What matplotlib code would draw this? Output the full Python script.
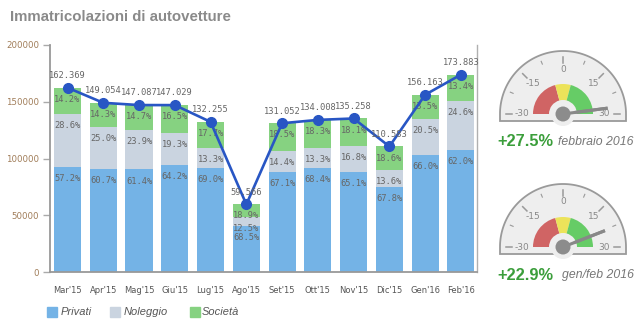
import matplotlib
matplotlib.use("Agg")
import matplotlib.pyplot as plt
import numpy as np
from matplotlib.patches import Wedge, Circle, Polygon

# Immatricolazioni mensili e ripartizione per canale (%)
mesi = ["Mar'15", "Apr'15", "Mag'15", "Giu'15", "Lug'15", "Ago'15",
        "Set'15", "Ott'15", "Nov'15", "Dic'15", "Gen'16", "Feb'16"]
totali = [162369, 149054, 147087, 147029, 132255, 59566,
          131052, 134008, 135258, 110583, 156163, 173883]
privati = [57.2, 60.7, 61.4, 64.2, 69.0, 68.5, 67.1, 68.4, 65.1, 67.8, 66.0, 62.0]
noleggio = [28.6, 25.0, 23.9, 19.3, 13.3, 12.5, 14.4, 13.3, 16.8, 13.6, 20.5, 24.6]
societa = [14.2, 14.3, 14.7, 16.5, 17.7, 18.9, 18.5, 18.3, 18.1, 18.6, 13.5, 13.4]

# Variazioni per i due indicatori a lancetta
var_mese = 27.5
var_bimestre = 22.9
etichette_var = ["febbraio 2016", "gen/feb 2016"]

C_PRIV = "#74b3e6"
C_NOL = "#cad4e0"
C_SOC = "#86d281"
C_LINE = "#2856c4"

W, H = 640, 334
fig = plt.figure(figsize=(W / 100, H / 100), dpi=100)

ax = fig.add_axes([50 / W, (H - 272) / H, (477 - 50) / W, (272 - 45) / H])
x = np.arange(len(mesi))
tot = np.array(totali, dtype=float)
p = tot * np.array(privati) / 100
n = tot * np.array(noleggio) / 100
s = tot * np.array(societa) / 100

bw = 0.76
ax.bar(x, p, bw, color=C_PRIV, label="Privati", zorder=2)
ax.bar(x, n, bw, bottom=p, color=C_NOL, label="Noleggio", zorder=2)
ax.bar(x, s, bw, bottom=p + n, color=C_SOC, label="Società", zorder=2)
ax.plot(x, tot, color=C_LINE, lw=1.9, marker="o", ms=7, zorder=4)

mono = dict(family="DejaVu Sans Mono", size=6.3, color="#666666")
for i in range(len(x)):
    for top, pct in ((p[i], privati[i]), (p[i] + n[i], noleggio[i]),
                     (p[i] + n[i] + s[i], societa[i])):
        ax.annotate(f"{pct:.1f}%", (x[i], top), xytext=(0, -8.3),
                    textcoords="offset points", ha="center", va="center",
                    zorder=3, **mono)
    val = f"{totali[i]:,}".replace(",", ".")
    ax.annotate(val, (x[i], tot[i]), xytext=(0, 8.8),
                textcoords="offset points", ha="center", va="center",
                zorder=5, **mono)

ax.set_xlim(-0.49, 11.45)
ax.set_ylim(0, 200000)
ax.set_yticks([0, 50000, 100000, 150000, 200000])
ax.set_yticklabels(["0", "50000", "100000", "150000", "200000"])
ax.set_xticks(x)
ax.set_xticklabels(mesi)
ax.tick_params(axis="y", length=5, width=1, color="#aaaaaa", pad=3,
               labelsize=6.2, labelcolor="#a07c58")
ax.tick_params(axis="x", length=0, pad=10, labelsize=6, labelcolor="#555555")
for side in ("left", "bottom"):
    ax.spines[side].set_color("#999999")
    ax.spines[side].set_linewidth(1.3)
ax.spines["right"].set_color("#b0b0b0")
ax.spines["right"].set_linewidth(1.0)
ax.spines["top"].set_visible(False)

fig.text(10 / W, 1 - 17 / H, "Immatricolazioni di autovetture",
         fontsize=10.8, fontweight="bold", color="#8a8a8a",
         family="Liberation Sans", va="center")

# legenda in basso
leg_items = [("Privati", C_PRIV, 47, 61), ("Noleggio", C_NOL, 110, 124),
             ("Società", C_SOC, 190, 202)]
over = fig.add_axes([0, 0, 1, 1])
over.set_xlim(0, W)
over.set_ylim(0, H)
over.axis("off")
for lab, col, xs, xt in leg_items:
    over.add_patch(plt.Rectangle((xs, H - 317), 10, 10, color=col))
    over.text(xt, H - 312, lab, fontsize=8, style="italic", color="#555555",
              family="Liberation Sans", va="center")


def gauge(cx, cy, value, pct_txt, sub_txt, ty):
    r = 63
    theta = np.linspace(0, np.pi, 100)
    pts = [(cx + r, cy - 7)] + [(cx + r * np.cos(t), cy + r * np.sin(t)) for t in theta] + [(cx - r, cy - 7)]
    over.add_patch(Polygon(pts, closed=True, fc="#eeeeee", ec="#9a9a9a", lw=1.3))

    def ang(v):
        return 90 - v / 30 * 90

    over.add_patch(Wedge((cx, cy), 30, ang(-5), ang(-30), width=16, fc="#d06464", ec="none"))
    over.add_patch(Wedge((cx, cy), 30, ang(5), ang(-5), width=16, fc="#ece35a", ec="none"))
    over.add_patch(Wedge((cx, cy), 30, ang(30), ang(5), width=16, fc="#66cc66", ec="none"))

    for v in np.arange(-30, 31, 7.5):
        a = np.radians(ang(v))
        major = v % 15 == 0
        r0 = 51 if major else 54
        over.plot([cx + r0 * np.cos(a), cx + 57 * np.cos(a)],
                  [cy + r0 * np.sin(a), cy + 57 * np.sin(a)],
                  color="#999999", lw=1.1 if major else 0.8)
        if major:
            rl = 43 if v != 0 else 45
            lx, ly = cx + rl * np.cos(a), cy + rl * np.sin(a)
            if abs(v) == 30:
                ly = cy
                lx = cx + np.sign(v) * 41
            over.text(lx, ly, f"{v:.0f}", fontsize=6.5, color="#888888",
                      ha="center", va="center")

    a = np.radians(ang(value))
    over.plot([cx, cx + 45 * np.cos(a)], [cy, cy + 45 * np.sin(a)],
              color="#888888", lw=2.2, solid_capstyle="butt")
    over.add_patch(Circle((cx, cy), 12, fc="#eeeeee", ec="none", zorder=3))
    over.add_patch(Circle((cx, cy), 7.5, fc="#8c8c8c", ec="none", zorder=4))
    over.plot([cx, cx + 45 * np.cos(a)], [cy, cy + 45 * np.sin(a)],
              color="#888888", lw=2.2, solid_capstyle="butt", zorder=3.5)

    over.text(497, ty, pct_txt, fontsize=11.8, fontweight="bold",
              color="#3b9e3b", family="Liberation Sans", va="center")
    over.text(634, ty, sub_txt, fontsize=8.8, style="italic",
              color="#777777", family="Liberation Sans", va="center", ha="right")


gauge(563, H - 114, var_mese, f"+{var_mese:.1f}%", etichette_var[0], H - 142)
gauge(563, H - 247, var_bimestre, f"+{var_bimestre:.1f}%", etichette_var[1], H - 275)

fig.savefig("out.png", dpi=100)
